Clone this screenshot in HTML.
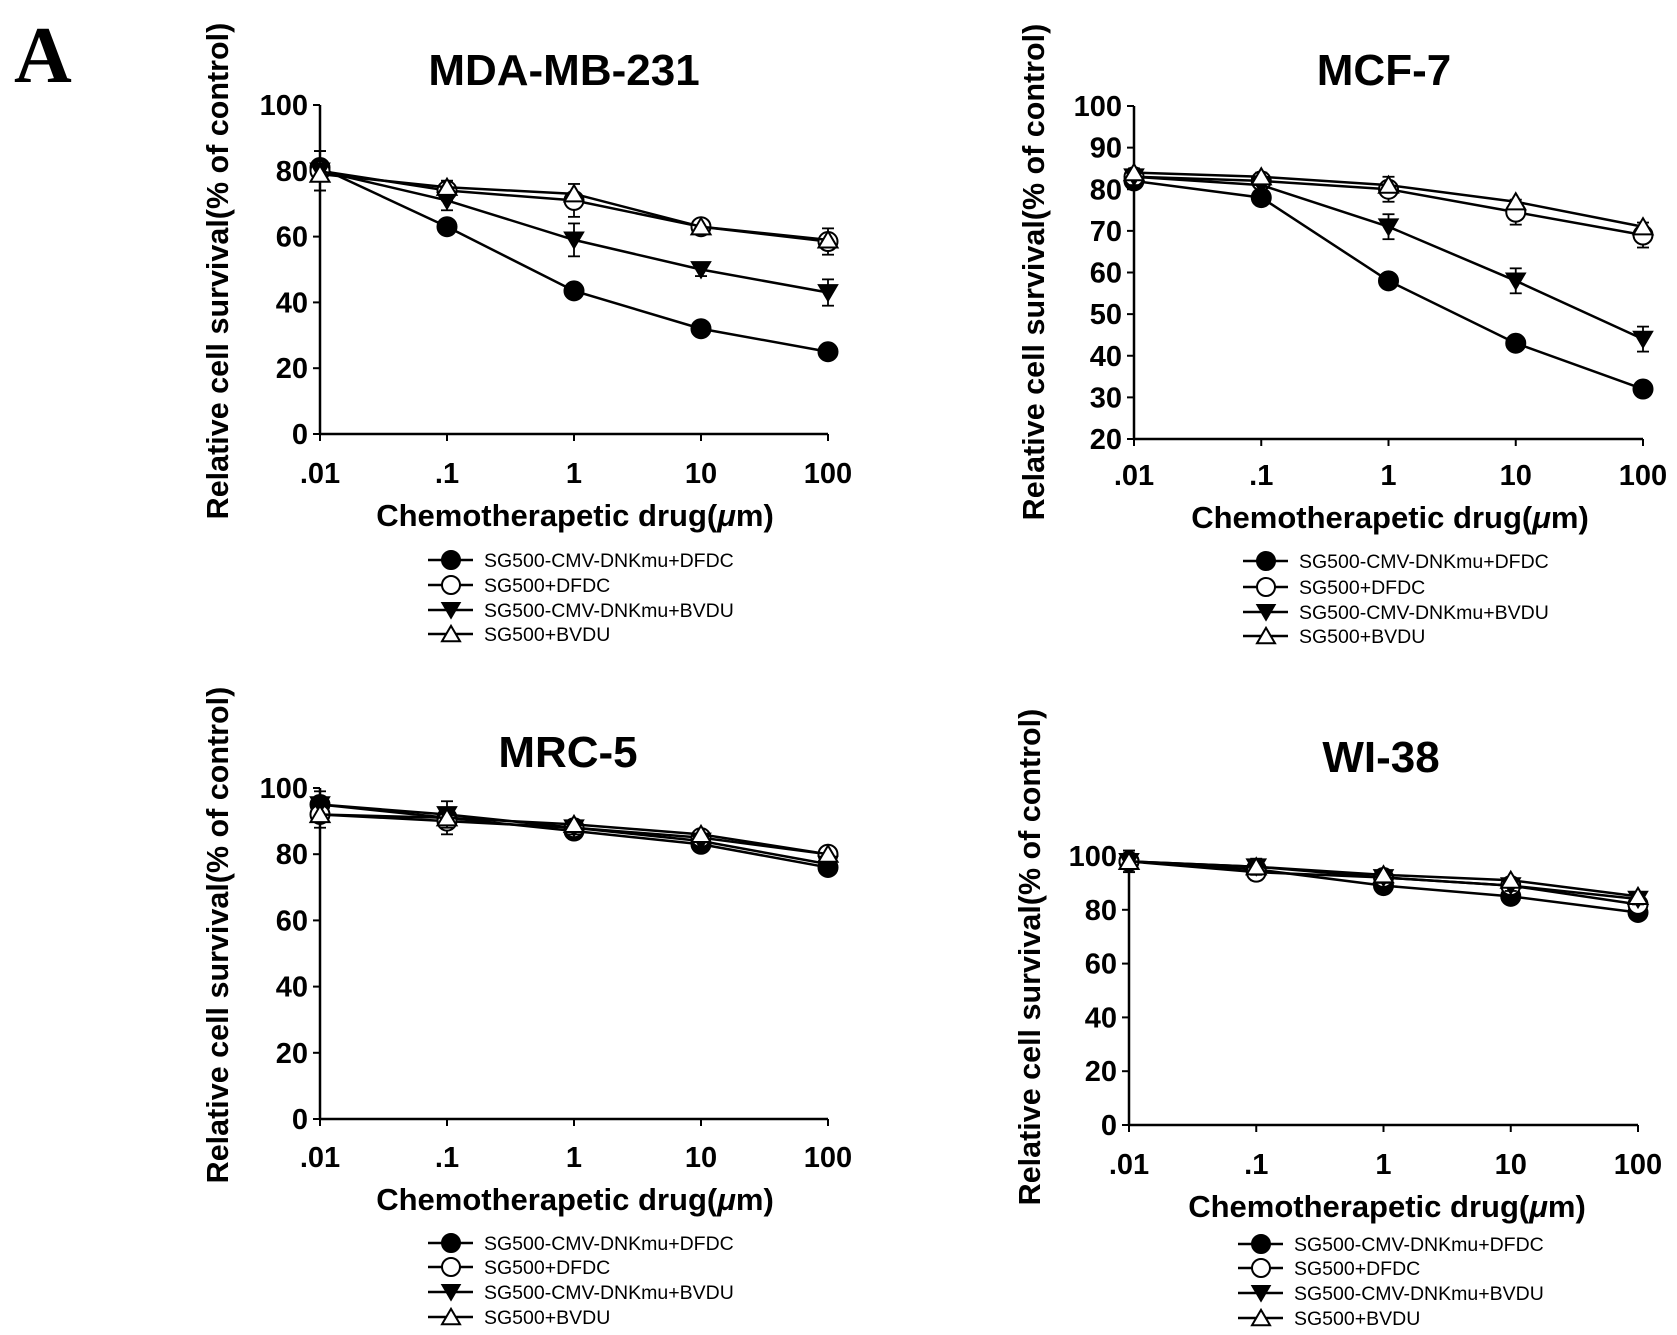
<!DOCTYPE html>
<html><head><meta charset="utf-8"><style>
html,body{margin:0;padding:0;background:#fff;width:1677px;height:1335px;overflow:hidden}
svg{display:block}
text{font-family:"Liberation Sans",sans-serif}
</style></head><body>
<svg id="chart" width="1677" height="1335" viewBox="0 0 1677 1335" xmlns="http://www.w3.org/2000/svg">
<text x="14" y="82" style="font-family:'Liberation Serif',serif;font-weight:bold;font-size:80px">A</text>
</svg>
<script>
const doses = [".01", ".1", "1", "10", "100"];
const seriesNames = ["SG500-CMV-DNKmu+DFDC", "SG500+DFDC", "SG500-CMV-DNKmu+BVDU", "SG500+BVDU"];
// MDA-MB-231
const mdaFilledCircle = [81, 63, 43.5, 32, 25];
const mdaOpenCircle = [80, 74, 71, 63, 58.5];
const mdaFilledTri = [80, 71, 59, 50, 43];
const mdaOpenTri = [79, 75, 73, 63, 59];
const mdaErr = [6, 3, 5, 2, 4];
// MCF-7
const mcfFilledCircle = [82, 78, 58, 43, 32];
const mcfOpenCircle = [83, 82, 80, 74.5, 69];
const mcfFilledTri = [83, 81, 71, 58, 44];
const mcfOpenTri = [84, 83, 81, 77, 71];
const mcfErr = [2, 2, 3, 3, 3];
// MRC-5
const mrcFilledCircle = [95, 91, 87, 83, 76];
const mrcOpenCircle = [92, 90, 88, 85, 80];
const mrcFilledTri = [95, 92, 88, 84, 77];
const mrcOpenTri = [92, 91, 89, 86, 80];
const mrcErr = [4, 4, 2, 2, 2];
// WI-38
const wiFilledCircle = [98, 95, 89, 85, 79];
const wiOpenCircle = [98, 94, 92, 89, 82];
const wiFilledTri = [98, 96, 92, 89, 84];
const wiOpenTri = [98, 96, 93, 91, 85];
const wiErr = [4, 3, 2, 2, 2];
const ticksA = [0, 20, 40, 60, 80, 100];
const ticksB = [20, 30, 40, 50, 60, 70, 80, 90, 100];

const panels = [
 {name:"mda-mb-231", title:"MDA-MB-231", tx:564, ty:85, x0:320, x1:828, yTop:105, yBot:434, ymin:0, ymax:100, ticks:ticksA, ylx:218, yly:271, tly:483, xtx:575, xty:526, leg:[560,585,610,634], mx:451, series:[mdaFilledCircle,mdaOpenCircle,mdaFilledTri,mdaOpenTri], err:mdaErr},
 {name:"mcf-7", title:"MCF-7", tx:1384, ty:85, x0:1134, x1:1643, yTop:106, yBot:439, ymin:20, ymax:100, ticks:ticksB, ylx:1034, yly:272, tly:485, xtx:1390, xty:528, leg:[561,587,612,636], mx:1266, series:[mcfFilledCircle,mcfOpenCircle,mcfFilledTri,mcfOpenTri], err:mcfErr},
 {name:"mrc-5", title:"MRC-5", tx:568, ty:767, x0:320, x1:828, yTop:788, yBot:1119, ymin:0, ymax:100, ticks:ticksA, ylx:218, yly:935, tly:1167, xtx:575, xty:1210, leg:[1243,1267,1292,1317], mx:451, series:[mrcFilledCircle,mrcOpenCircle,mrcFilledTri,mrcOpenTri], err:mrcErr},
 {name:"wi-38", title:"WI-38", tx:1381, ty:772, x0:1129, x1:1638, yTop:856, yBot:1125, ymin:0, ymax:100, ticks:ticksA, ylx:1030, yly:957, tly:1174, xtx:1387, xty:1217, leg:[1244,1268,1293,1318], mx:1261, series:[wiFilledCircle,wiOpenCircle,wiFilledTri,wiOpenTri], err:wiErr}
];
const NS="http://www.w3.org/2000/svg";
const svg=document.getElementById('chart');
function mk(tag,attrs,parent){const e=document.createElementNS(NS,tag);for(const k in attrs)e.setAttribute(k,attrs[k]);(parent||svg).appendChild(e);return e;}
function marker(g,kind,cx,cy,r){
  let e;
  if(kind<2){e=mk('circle',{cx:cx,cy:cy,r:r,fill:kind==0?'#000':'#fff',stroke:'#000','stroke-width':2},g);}
  else if(kind==2){e=mk('polygon',{points:`${cx-r},${cy-r*0.8} ${cx+r},${cy-r*0.8} ${cx},${cy+r*0.9}`,fill:'#000',stroke:'#000','stroke-width':1.5},g);}
  else {e=mk('polygon',{points:`${cx-r},${cy+r*0.8} ${cx+r},${cy+r*0.8} ${cx},${cy-r*0.9}`,fill:'#fff',stroke:'#000','stroke-width':2},g);}
  return e;
}
panels.forEach(p=>{
  const g=mk('g',{});
  
  
  const xs=i=>p.x0+(p.x1-p.x0)*i/(doses.length-1);
  const ys=v=>p.yBot-(v-p.ymin)/(p.ymax-p.ymin)*(p.yBot-p.yTop);
  const t=mk('text',{x:p.tx,y:p.ty,'text-anchor':'middle','font-weight':'bold','font-size':44},g);t.textContent=p.title;
  
  
  const ya=mk('line',{x1:p.x0,y1:p.yTop,x2:p.x0,y2:p.yBot,stroke:'#000','stroke-width':2.5},g);
  
  
  const xa=mk('line',{x1:p.x0,y1:p.yBot,x2:p.x1,y2:p.yBot,stroke:'#000','stroke-width':2.5},g);
  
  
  p.ticks.forEach(v=>{
    mk('line',{x1:p.x0-7,y1:ys(v),x2:p.x0,y2:ys(v),stroke:'#000','stroke-width':2},g);
    const tl=mk('text',{x:p.x0-12,y:ys(v)+10,'text-anchor':'end','font-weight':'bold','font-size':29},g);tl.textContent=v;
    
    
  });
  doses.forEach((d,i)=>{
    mk('line',{x1:xs(i),y1:p.yBot,x2:xs(i),y2:p.yBot+7,stroke:'#000','stroke-width':2},g);
    const tl=mk('text',{x:xs(i),y:p.tly,'text-anchor':'middle','font-weight':'bold','font-size':29},g);tl.textContent=d;
    
    
  });
  const yl=mk('text',{x:0,y:0,'text-anchor':'middle','font-weight':'bold','font-size':30.5,transform:`translate(${p.ylx+10},${p.yly}) rotate(-90)`},g);
  yl.textContent='Relative cell survival(% of control)';
  
  
  const xl=mk('text',{x:p.xtx,y:p.xty,'text-anchor':'middle','font-weight':'bold','font-size':31},g);
  xl.innerHTML='Chemotherapetic drug(<tspan font-style="italic">μ</tspan>m)';
  
  
  p.series.forEach((vals,k)=>{
    const sg=mk('g',{},g);
    
    
    mk('polyline',{points:vals.map((v,i)=>xs(i)+','+ys(v)).join(' '),fill:'none',stroke:'#000','stroke-width':2.5},sg);
    vals.forEach((v,i)=>{
      if(k==1||k==2){const e=p.err[i];
        mk('line',{x1:xs(i),y1:ys(v-e),x2:xs(i),y2:ys(v+e),stroke:'#000','stroke-width':1.8},sg);
        mk('line',{x1:xs(i)-6,y1:ys(v+e),x2:xs(i)+6,y2:ys(v+e),stroke:'#000','stroke-width':1.8},sg);
        mk('line',{x1:xs(i)-6,y1:ys(v-e),x2:xs(i)+6,y2:ys(v-e),stroke:'#000','stroke-width':1.8},sg);}
      const m=marker(sg,k,xs(i),ys(v),9.5);
      
      
    });
  });
  const lg=mk('g',{},g);
  
  
  seriesNames.forEach((n,k)=>{
    const y=p.leg[k];
    const eg=mk('g',{},lg);
    
    
    mk('line',{x1:p.mx-23,y1:y,x2:p.mx+22,y2:y,stroke:'#000','stroke-width':2.5},eg);
    marker(eg,k,p.mx,y,9);
    const tx=mk('text',{x:p.mx+33,y:y+7,'font-size':19.5},eg);tx.textContent=n;
  });
});
</script>
</body></html>
